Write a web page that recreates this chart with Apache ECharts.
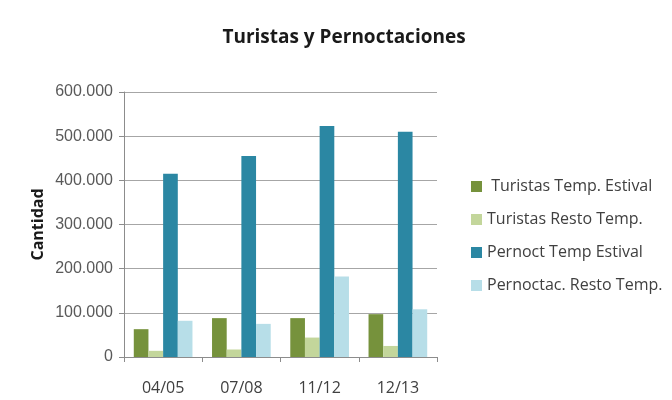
<!DOCTYPE html>
<html><head><meta charset="utf-8">
<script src="https://cdn.jsdelivr.net/npm/echarts@6/dist/echarts.min.js"></script>
<style>html,body{margin:0;padding:0;background:#fff}#c{width:672px;height:400px}</style>
</head><body><div id="c"></div>
<script>
const categories = ['04/05', '07/08', '11/12', '12/13'];
const turistasEstival = [63000, 88000, 88000, 97000];
const turistasResto = [14000, 17000, 44000, 25000];
const pernoctEstival = [415000, 455000, 523000, 510000];
const pernoctResto = [82000, 75000, 182000, 108000];
const seriesNames = [' Turistas Temp. Estival', 'Turistas Resto Temp.', 'Pernoct Temp Estival', 'Pernoctac. Resto Temp.'];
const colors = ['#76923c', '#c3d69b', '#2b87a3', '#b7dee8'];

const chart = echarts.init(document.getElementById('c'));
const fmt = v => v === 0 ? '0' : (v / 1000).toFixed(0) + '.000';
const data = [turistasEstival, turistasResto, pernoctEstival, pernoctResto];
chart.setOption({
  animation: false,
  textStyle: { fontFamily: 'Open Sans' },
  title: { text: 'Turistas y Pernoctaciones', left: 339, textAlign: 'center', top: 23,
    textStyle: { fontFamily: 'Open Sans', fontWeight: 'bold', fontSize: 19, color: '#1a1a1a' } },
  legend: { orient: 'vertical', left: 466, top: 171, itemGap: 12, itemWidth: 11, itemHeight: 11,
    icon: 'rect', textStyle: { fontSize: 16, lineHeight: 21, color: '#404040', fontFamily: 'Open Sans' } },
  grid: { left: 124, top: 92, right: 235, bottom: 43, containLabel: false },
  xAxis: { type: 'category', data: categories,
    axisLine: { lineStyle: { color: '#8c8c8c' } },
    axisTick: { show: true, length: 5, lineStyle: { color: '#8c8c8c' } },
    axisLabel: { fontSize: 16, color: '#404040', margin: 23 } },
  yAxis: { type: 'value', min: 0, max: 600000, interval: 100000,
    name: 'Cantidad', nameLocation: 'middle', nameGap: 78, nameRotate: 90,
    nameTextStyle: { fontWeight: 'bold', fontSize: 16, color: '#1a1a1a' },
    axisLine: { show: true, lineStyle: { color: '#8c8c8c' } },
    axisTick: { show: true, length: 5, lineStyle: { color: '#8c8c8c' } },
    splitLine: { lineStyle: { color: '#a6a6a6' } },
    axisLabel: { fontSize: 16, color: '#595959', margin: 11, fontFamily: 'Liberation Sans', formatter: fmt } },
  series: seriesNames.map((n, i) => ({ name: n, type: 'bar', data: data[i],
    itemStyle: { color: colors[i] }, barGap: '0%', barCategoryGap: '25%' }))
});
</script></body></html>
